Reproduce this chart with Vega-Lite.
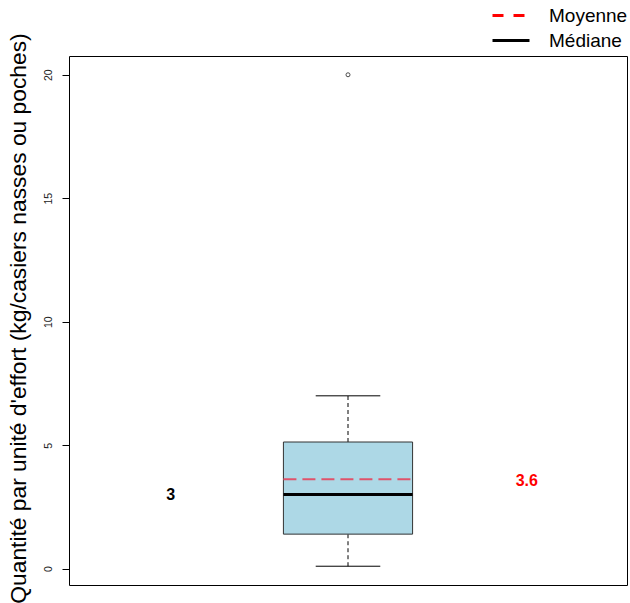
{
  "$schema": "https://vega.github.io/schema/vega-lite/v6.json",
  "autosize": "none",
  "width": 558,
  "height": 529,
  "padding": {"left": 69, "top": 56, "right": 3, "bottom": 18},
  "background": "white",
  "config": {
    "font": "Liberation Sans",
    "view": {"stroke": "black", "strokeWidth": 1}
  },
  "datasets": {
    "stats": [{"lo": 0.1, "q1": 1.4, "median": 3.0, "mean": 3.62, "q3": 5.13, "hi": 7.0, "outlier": 20}],
    "lines": [
      {"stat": "Moyenne", "value": 3.62},
      {"stat": "Médiane", "value": 3.0}
    ]
  },
  "data": {"name": "stats"},
  "encoding": {
    "y": {
      "type": "quantitative",
      "scale": {"domain": [-0.66, 20.76], "nice": false, "zero": false},
      "axis": {
        "title": "Quantité par unité d'effort (kg/casiers nasses ou poches)",
        "titleFontSize": 22.8,
        "titleFontWeight": "normal",
        "titleColor": "black",
        "titleAngle": 270,
        "titleAlign": "center",
        "titleBaseline": "middle",
        "titleX": -51,
        "titleY": 262,
        "values": [0, 5, 10, 15, 20],
        "labelAngle": 270,
        "labelAlign": "center",
        "labelBaseline": "bottom",
        "labelFontSize": 10.5,
        "labelColor": "#222",
        "labelPadding": 9,
        "tickSize": 7,
        "tickColor": "black",
        "domain": false,
        "grid": false
      }
    }
  },
  "layer": [
    {
      "mark": {"type": "rule", "strokeDash": [4, 3], "color": "black", "strokeWidth": 1},
      "encoding": {
        "x": {"datum": 1, "type": "quantitative", "scale": {"domain": [0.46, 1.54], "nice": false, "zero": false}, "axis": null},
        "y": {"field": "lo"},
        "y2": {"field": "q1"}
      }
    },
    {
      "mark": {"type": "rule", "strokeDash": [4, 3], "color": "black", "strokeWidth": 1},
      "encoding": {
        "x": {"datum": 1, "type": "quantitative"},
        "y": {"field": "q3"},
        "y2": {"field": "hi"}
      }
    },
    {
      "mark": {"type": "rule", "color": "black", "strokeWidth": 1},
      "encoding": {
        "x": {"datum": 0.9375, "type": "quantitative"},
        "x2": {"datum": 1.0625},
        "y": {"field": "lo"}
      }
    },
    {
      "mark": {"type": "rule", "color": "black", "strokeWidth": 1},
      "encoding": {
        "x": {"datum": 0.9375, "type": "quantitative"},
        "x2": {"datum": 1.0625},
        "y": {"field": "hi"}
      }
    },
    {
      "mark": {"type": "rect", "fill": "#ADD8E6", "stroke": "#333333", "strokeWidth": 1},
      "encoding": {
        "x": {"datum": 0.875, "type": "quantitative"},
        "x2": {"datum": 1.125},
        "y": {"field": "q1"},
        "y2": {"field": "q3"}
      }
    },
    {
      "mark": {"type": "rule", "color": "#DF536B", "strokeWidth": 2, "strokeDash": [13, 6]},
      "encoding": {
        "x": {"datum": 0.875, "type": "quantitative"},
        "x2": {"datum": 1.125},
        "y": {"field": "mean"}
      }
    },
    {
      "mark": {"type": "rule", "color": "black", "strokeWidth": 3},
      "encoding": {
        "x": {"datum": 0.875, "type": "quantitative"},
        "x2": {"datum": 1.125},
        "y": {"field": "median"}
      }
    },
    {
      "data": {"name": "lines"},
      "mark": {"type": "rule", "strokeWidth": 3},
      "encoding": {
        "x": {"datum": 1, "type": "quantitative"},
        "x2": {"datum": 1},
        "y": {"field": "value", "type": "quantitative"},
        "color": {
          "field": "stat",
          "type": "nominal",
          "scale": {"domain": ["Moyenne", "Médiane"], "range": ["red", "black"]},
          "legend": {
            "title": null,
            "orient": "none",
            "legendX": 422,
            "legendY": -53,
            "padding": 0,
            "symbolType": "stroke",
            "symbolSize": 1369,
            "symbolStrokeWidth": 3,
            "labelFontSize": 19,
            "labelColor": "black",
            "labelOffset": 18,
            "labelBaseline": "middle",
            "clipHeight": 25,
            "rowPadding": 0
          }
        },
        "strokeDash": {
          "field": "stat",
          "type": "nominal",
          "scale": {"domain": ["Moyenne", "Médiane"], "range": [[11, 10], [1, 0]]}
        }
      }
    },
    {
      "mark": {"type": "point", "shape": "circle", "filled": false, "color": "black", "size": 16, "strokeWidth": 1},
      "encoding": {
        "x": {"datum": 1, "type": "quantitative"},
        "y": {"field": "outlier"}
      }
    },
    {
      "mark": {"type": "text", "fontSize": 16, "fontWeight": "bold", "color": "black", "baseline": "middle", "align": "center"},
      "encoding": {
        "x": {"datum": 0.657, "type": "quantitative"},
        "y": {"field": "median"},
        "text": {"field": "median", "type": "quantitative", "format": ".1~f"}
      }
    },
    {
      "mark": {"type": "text", "fontSize": 16, "fontWeight": "bold", "color": "red", "baseline": "middle", "align": "center", "dy": 2},
      "encoding": {
        "x": {"datum": 1.346, "type": "quantitative"},
        "y": {"field": "mean"},
        "text": {"field": "mean", "type": "quantitative", "format": ".1~f"}
      }
    }
  ]
}
